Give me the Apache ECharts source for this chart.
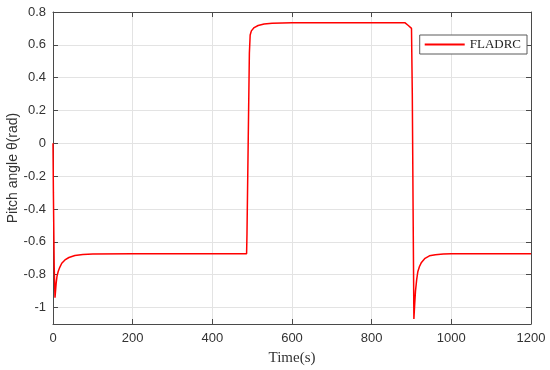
<!DOCTYPE html>
<html>
<head>
<meta charset="utf-8">
<script src="https://cdn.jsdelivr.net/npm/echarts@6/dist/echarts.min.js"></script>
<style>html,body{margin:0;padding:0;background:#fff;}#c{width:550px;height:370px;}</style>
</head>
<body>
<div id="c"></div>
<script>
const seriesName = 'FLADRC';
const timeS = [0,1,3,5,6,8,10,13,17,22,30,40,55,75,100,200,486,487,490,493,495,498,505,515,530,550,600,870,884,892,900,902,904,906,908,910,913,916,920,925,934,945,960,980,1000,1200];
const pitch = [0,-0.3,-0.75,-0.94,-0.91,-0.85,-0.81,-0.78,-0.755,-0.73,-0.71,-0.695,-0.683,-0.677,-0.673,-0.672,-0.672,-0.55,0.0,0.55,0.66,0.685,0.705,0.718,0.727,0.732,0.735,0.735,0.734,0.718,0.70,0.3,-0.4,-1.07,-0.98,-0.90,-0.83,-0.78,-0.75,-0.725,-0.70,-0.685,-0.678,-0.674,-0.672,-0.672];
const yTicks = [-1,-0.8,-0.6,-0.4,-0.2,0,0.2,0.4,0.6,0.8];
const xTicks = [0,200,400,600,800,1000,1200];

const axisColor = '#4a4a4a';
const chart = echarts.init(document.getElementById('c'));
chart.setOption({
  animation: false,
  grid: {left: 53, right: 19, top: 12, bottom: 46, containLabel: false, outerBoundsMode: 'none'},
  legend: {
    data: [seriesName],
    right: 23, top: 35,
    orient: 'vertical',
    backgroundColor: '#fff',
    borderColor: '#5a5a5a', borderWidth: 1, borderRadius: 0,
    padding: [3, 6, 3, 5],
    itemWidth: 40, itemHeight: 2, itemGap: 0,
    icon: 'rect',
    textStyle: {fontFamily: 'Liberation Serif', fontSize: 13, color: '#222'}
  },
  xAxis: [{
    type: 'value', min: 0, max: 1200, interval: 200,
    name: 'Time(s)', nameLocation: 'middle', nameGap: 27, nameMoveOverlap: false,
    nameTextStyle: {fontFamily: 'Liberation Serif', fontSize: 15, color: '#333'},
    axisLine: {show: true, onZero: false, lineStyle: {color: axisColor, width: 1}},
    axisTick: {show: true, inside: true, length: 5, lineStyle: {color: axisColor}},
    axisLabel: {fontFamily: 'Liberation Sans', fontSize: 13, color: '#333', margin: 8,
      formatter: v => String(v)},
    splitLine: {show: true, lineStyle: {color: '#e3e3e3', width: 1}}
  }, {
    type: 'value', position: 'top', min: 0, max: 1200, interval: 200,
    axisLine: {show: true, onZero: false, lineStyle: {color: axisColor, width: 1}},
    axisTick: {show: true, inside: true, length: 5, lineStyle: {color: axisColor}},
    axisLabel: {show: false},
    splitLine: {show: false}
  }],
  yAxis: [{
    type: 'value', min: -1.1, max: 0.8,
    name: 'Pitch angle θ(rad)', nameLocation: 'middle', nameGap: 33, nameRotate: 90, nameMoveOverlap: false,
    nameTextStyle: {fontFamily: 'Liberation Sans', fontSize: 14, color: '#333'},
    axisLine: {show: true, onZero: false, lineStyle: {color: axisColor, width: 1}},
    axisTick: {show: true, inside: true, length: 5, lineStyle: {color: axisColor}, customValues: yTicks},
    axisLabel: {fontFamily: 'Liberation Sans', fontSize: 13, color: '#333', margin: 7, customValues: yTicks},
    splitLine: {show: true, lineStyle: {color: '#e3e3e3', width: 1}}
  }, {
    type: 'value', position: 'right', min: -1.1, max: 0.8,
    axisLine: {show: true, onZero: false, lineStyle: {color: axisColor, width: 1}},
    axisTick: {show: true, inside: true, length: 5, lineStyle: {color: axisColor}, customValues: yTicks},
    axisLabel: {show: false},
    splitLine: {show: false}
  }],
  series: [{
    name: seriesName, type: 'line', xAxisIndex: 0, yAxisIndex: 0,
    data: timeS.map((t, i) => [t, pitch[i]]),
    showSymbol: false, symbol: 'none',
    lineStyle: {color: '#ff0000', width: 1.5},
    itemStyle: {color: '#ff0000'}
  }]
});
</script>
</body>
</html>
